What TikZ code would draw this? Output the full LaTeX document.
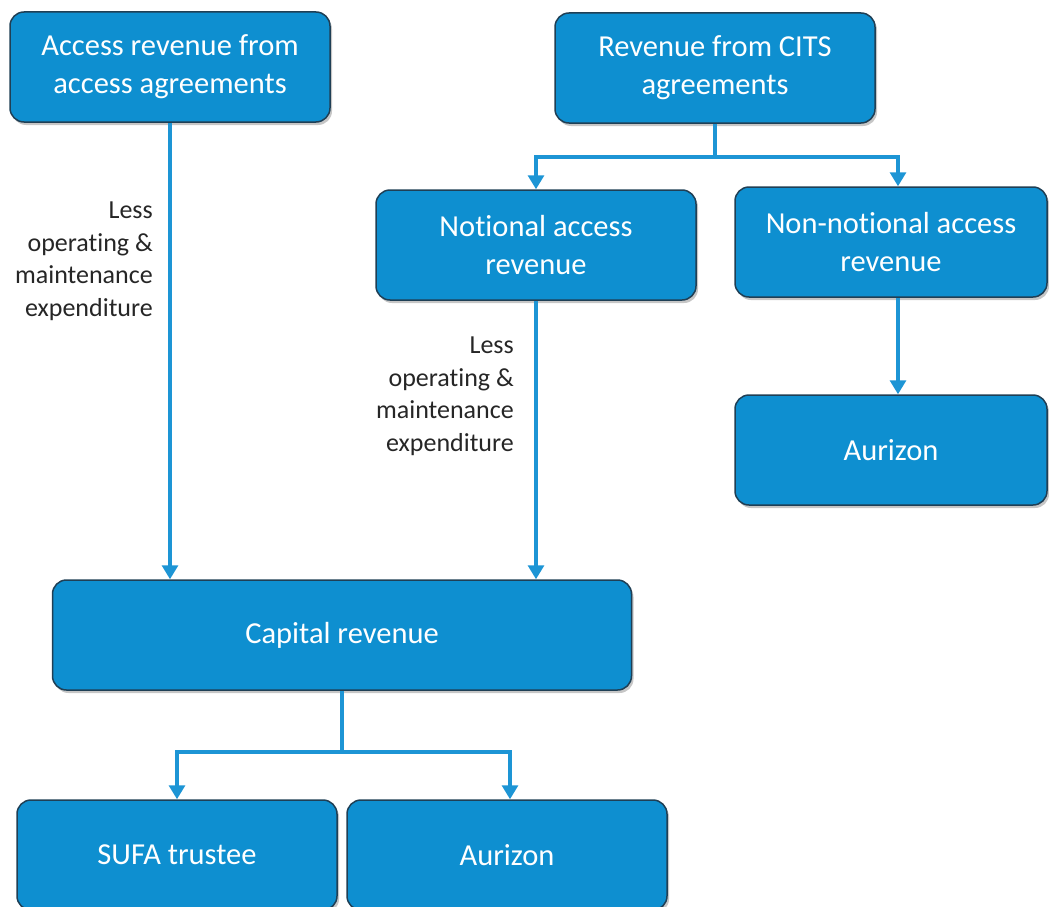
\documentclass[tikz,border=0pt]{standalone}
\usepackage{fontspec}
\setmainfont{Carlito}[Ligatures=NoCommon]
\usetikzlibrary{positioning,arrows.meta,shadows}

\definecolor{boxblue}{HTML}{0E8FD0}
\definecolor{boxedge}{HTML}{1F3F55}
\definecolor{linkblue}{HTML}{1D95D5}

\tikzset{
	fund/.style={draw=boxedge, line width=1.5pt, fill=boxblue, rounded corners=14pt,
		text=white, minimum width=320pt, minimum height=110pt, align=center,
		font=\fontsize{30.5}{38}\selectfont,
		drop shadow={shadow xshift=2pt, shadow yshift=-3pt, opacity=0.45}},
	link/.style={draw=linkblue, line width=3.2pt},
	flow/.style={link, -{Triangle[width=16pt,length=14pt]}},
	less/.style={align=right, anchor=north east, inner sep=0pt, text=black!85,
		font=\fontsize{26}{32.5}\selectfont}
}

\begin{document}
\begin{tikzpicture}[x=1pt,y=-1pt]
	\clip (0,0) rectangle (1049,907);
	\useasboundingbox (0,0) rectangle (1049,907);

	% sources
	\node[fund] (access) at (170,67) {Access revenue from\\access agreements};
	\node[fund] (cits) at (715,68) {Revenue from CITS\\agreements};

	% split of CITS revenue
	\node[fund] (notional) at (536,245) {Notional access\\revenue};
	\node[fund, minimum width=312pt] (nonnotional) at (891,242) {Non-notional access\\revenue};
	\node[fund, minimum width=312pt] (aurizonA) at (891,450) {Aurizon};

	% capital revenue and its recipients
	\node[fund, minimum width=579pt] (capital) at (342,635) {Capital revenue};
	\node[fund] (sufa) at (177,855) {SUFA trustee};
	\node[fund] (aurizonB) at (507,855) {Aurizon};

	% fork points
	\coordinate (citsfork) at (715,157);
	\coordinate (forkR) at (898,157);
	\coordinate (capfork) at (342,752);
	\coordinate (capforkR) at (510,752);

	% connectors
	\draw[flow] (access) -- (access |- capital.north);
	\draw[flow] (notional) -- (notional |- capital.north);
	\draw[link] (cits) -- (citsfork);
	\draw[flow] (citsfork) -| (notional.north);
	\draw[flow] (citsfork) -- (forkR) -- (forkR |- nonnotional.north);
	\draw[flow] (nonnotional.south -| forkR) -- (forkR |- aurizonA.north);
	\draw[link] (capital) -- (capfork);
	\draw[flow] (capfork) -| (sufa.north);
	\draw[flow] (capfork) -- (capforkR) -- (capforkR |- aurizonB.north);

	% deductions
	\node[less] (lessA) at (153,202) {Less\\operating \&\\maintenance\\expenditure};
	\node[less] (lessB) at (514,337) {Less\\operating \&\\maintenance\\expenditure};
\end{tikzpicture}
\end{document}
